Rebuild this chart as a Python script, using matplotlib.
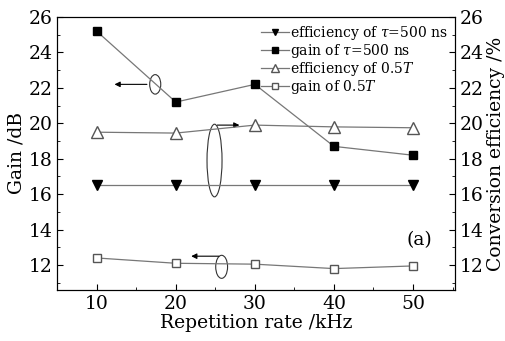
import matplotlib
matplotlib.use("Agg")
import matplotlib.pyplot as plt
from matplotlib.patches import Ellipse
from matplotlib.ticker import MultipleLocator

plt.rcParams["font.family"] = "DejaVu Serif"
plt.rcParams["mathtext.fontset"] = "dejavuserif"

rate = [10, 20, 30, 40, 50]
gain_tau = [25.2, 21.2, 22.2, 18.7, 18.2]
eff_tau = [16.5, 16.5, 16.5, 16.5, 16.5]
eff_half = [19.5, 19.45, 19.9, 19.8, 19.75]
gain_half = [12.4, 12.1, 12.05, 11.8, 11.95]

fig = plt.figure(figsize=(5.06, 3.41), dpi=100)
ax = fig.add_axes([0.113, 0.150, 0.786, 0.800])
ax2 = ax.twinx()

lc = "#777777"
h1, = ax2.plot(rate, eff_tau, "-v", color=lc, mfc="black", mec="black", ms=7, lw=0.9,
               label=r"efficiency of $\tau$=500 ns")
h2, = ax.plot(rate, gain_tau, "-s", color=lc, mfc="black", mec="black", ms=6, lw=0.9,
              label=r"gain of $\tau$=500 ns")
h3, = ax2.plot(rate, eff_half, "-^", color=lc, mfc="white", mec="#555555", ms=8, lw=0.9,
               label=r"efficiency of 0.5$T$")
h4, = ax.plot(rate, gain_half, "-s", color=lc, mfc="white", mec="#555555", ms=6, lw=0.9,
              label=r"gain of 0.5$T$")

for a in (ax, ax2):
    a.set_ylim(10.6, 26)
    a.set_xlim(5, 55.3)
    a.yaxis.set_major_locator(MultipleLocator(2))
    a.yaxis.set_minor_locator(MultipleLocator(1))
    a.tick_params(which="both", direction="in", labelsize=13.5)
    a.tick_params(which="major", length=4)
    a.tick_params(which="minor", length=2)
ax.xaxis.set_major_locator(MultipleLocator(10))
ax.xaxis.set_minor_locator(MultipleLocator(5))
ax.tick_params(top=False, which="both")

ax.set_xlabel("Repetition rate /kHz", fontsize=13.5, labelpad=1)
ax.set_ylabel("Gain /dB", fontsize=13.5, labelpad=2)
ax2.set_ylabel("Conversion efficiency /%", fontsize=13.5, labelpad=2)

# annotation ellipses and arrows
ap = dict(arrowstyle="-|>", color="black", lw=0.8, mutation_scale=8)
ax.add_patch(Ellipse((17.4, 22.2), 1.4, 1.1, fill=False, ec="#333333", lw=0.8))
ax.annotate("", xy=(11.9, 22.2), xytext=(16.7, 22.2), arrowprops=ap)
ax.add_patch(Ellipse((24.9, 17.9), 1.9, 4.1, fill=False, ec="#333333", lw=0.8))
ax.annotate("", xy=(28.4, 19.9), xytext=(24.9, 19.9), arrowprops=ap)
ax.add_patch(Ellipse((25.8, 11.9), 1.5, 1.3, fill=False, ec="#333333", lw=0.8))
ax.annotate("", xy=(21.6, 12.5), xytext=(25.8, 12.5), arrowprops=ap)

ax.text(50.8, 13.4, "(a)", fontsize=13.5, ha="center", va="center")

ax2.legend(handles=[h1, h2, h3, h4], loc="upper right", frameon=False, fontsize=10,
           handlelength=2.0, handletextpad=0.1, labelspacing=0.0,
           borderaxespad=0.1, numpoints=1, markerscale=0.7)

fig.savefig("out.png", dpi=100)
